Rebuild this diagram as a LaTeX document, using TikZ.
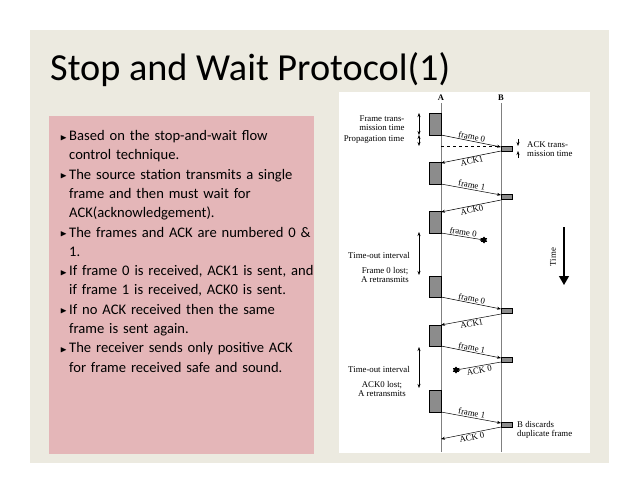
\documentclass[tikz,border=0pt]{standalone}
\usepackage{amssymb}
\usepackage{fontspec}
\setmainfont{Carlito}
\newfontfamily\diag{Liberation Serif}
\usetikzlibrary{arrows.meta,shapes.geometric}
\definecolor{beige}{RGB}{236,234,224}
\definecolor{pinkbox}{RGB}{228,182,184}
\definecolor{blk}{RGB}{140,140,140}
\newcommand{\mybul}{\raisebox{0.5pt}{\small$\blacktriangleright$}}
\begin{document}
\begin{tikzpicture}[x=1pt,y=-1pt,
  dl/.style={font=\diag\fontsize{8.8}{9.5}\selectfont, inner sep=1pt},
  blockA/.style={fill=blk,draw=black,line width=0.4pt},
  msg/.style={-{Stealth[length=4pt,width=3pt]},line width=0.5pt},
  dim/.style={{Stealth[length=4pt,width=3pt]}-{Stealth[length=4pt,width=3pt]},line width=0.5pt},
  lbl/.style={dl,sloped,above,pos=0.5},
  lblr/.style={dl,sloped,below,pos=0.5},
  lost/.style={star,star points=6,fill=black,minimum size=7pt,inner sep=0pt}]
\useasboundingbox (0,0) rectangle (638,493);
\fill[white] (0,0) rectangle (638,493);
\fill[beige] (30,30) rectangle (609,463);
\fill[pinkbox] (49,116) rectangle (314,454);
\node[anchor=base west,inner sep=0pt] (title) at (50,80) {\resizebox{400pt}{!}{Stop and Wait Protocol(1)}};
\node[anchor=north west,inner sep=0pt,text width=260pt,align=left,font=\fontsize{14.6}{19.3}\selectfont] (txt) at (54,121) {%
\begin{list}{\mybul}{\leftmargin=15pt\labelwidth=11pt\labelsep=2pt\itemsep=0pt\parsep=0pt\topsep=0pt\raggedright}
\item Based on the stop-and-wait flow control technique.
\item The source station transmits a single frame and then must wait for ACK(acknowledgement).
\item The frames and ACK are numbered 0 \& 1.
\item If frame 0 is received, ACK1 is sent, and if frame 1 is received, ACK0 is sent.
\item If no ACK received then the same frame is sent again.
\item The receiver sends only positive ACK for frame received safe and sound.
\end{list}};
% diagram panel
\fill[white] (339,92) rectangle (590,453);
\node[dl,font=\diag\bfseries\fontsize{8.5}{9}\selectfont] (A) at (441,98) {A};
\node[dl,font=\diag\bfseries\fontsize{8.5}{9}\selectfont] (B) at (501,98) {B};
\draw[gray,line width=0.8pt] (441,103) -- (441,452);
\draw[gray,line width=0.8pt] (501,103) -- (501,452);
% A blocks
\foreach \t/\b in {113/135,162/184,211/233,276/297,325/346,390/412}
  \draw[blockA] (429,\t) rectangle (441,\b);
% B blocks
\foreach \t in {146,194,308,357,422}
  \draw[blockA] (501,\t) rectangle (512,\t+5);
% messages
\coordinate (a1) at (441,135); \coordinate (b1) at (501,147);
\coordinate (b1e) at (501,151); \coordinate (a1e) at (441,163);
\draw[msg] (a1) -- node[lbl]{frame 0} (b1);
\draw[msg] (b1e) -- node[lblr]{ACK1} (a1e);
\draw[dashed,line width=0.4pt] (441,146) -- (501,146);
\coordinate (a2) at (441,184); \coordinate (b2) at (501,195);
\coordinate (b2e) at (501,200); \coordinate (a2e) at (441,212);
\draw[msg] (a2) -- node[lbl]{frame 1} (b2);
\draw[msg] (b2e) -- node[lblr]{ACK0} (a2e);
\coordinate (a3) at (441,233); \node[lost] (s1) at (484,240) {};
\draw[msg] (a3) -- node[lbl]{frame 0} (s1.center);
\coordinate (a4) at (441,297); \coordinate (b4) at (501,309);
\coordinate (b4e) at (501,314); \coordinate (a4e) at (441,325);
\draw[msg] (a4) -- node[lbl]{frame 0} (b4);
\draw[msg] (b4e) -- node[lblr]{ACK1} (a4e);
\coordinate (a5) at (441,346); \coordinate (b5) at (501,358);
\coordinate (b5e) at (501,362); \node[lost] (s2) at (456,370) {};
\draw[msg] (a5) -- node[lbl]{frame 1} (b5);
\draw[msg] (b5e) -- node[lblr]{ACK 0} (s2.center);
\coordinate (a6) at (441,412); \coordinate (b6) at (501,423);
\coordinate (b6e) at (501,427); \coordinate (a6e) at (441,439);
\draw[msg] (a6) -- node[lbl]{frame 1} (b6);
\draw[msg] (b6e) -- node[lblr]{ACK 0} (a6e);
% left annotations
\node[dl,align=center] (ft) at (382,123) {Frame trans-\\mission time};
\node[dl] (pt) at (374,140) {Propagation time};
\coordinate (d1) at (419,113); \coordinate (d2) at (419,135); \coordinate (d3) at (419,146);
\draw[dim] (d1) -- (d2);
\draw[dim] (d2) -- (d3);
\node[dl,align=left,anchor=west] (ackt) at (526,149) {ACK trans-\\mission time};
\coordinate (k1) at (518,139); \coordinate (k2) at (518,146);
\coordinate (k3) at (518,158); \coordinate (k4) at (518,151);
\draw[msg] (k1) -- (k2);
\draw[msg] (k3) -- (k4);
\coordinate (t1) at (419,232); \coordinate (t2) at (419,275);
\draw[dim] (t1) -- (t2);
\node[dl] (to1) at (379,255) {Time-out interval};
\node[dl,align=center] (fl) at (385,275) {Frame 0 lost;\\A retransmits};
\coordinate (t3) at (419,347); \coordinate (t4) at (419,388);
\draw[dim] (t3) -- (t4);
\node[dl] (to2) at (379,369) {Time-out interval};
\node[dl,align=center] (al) at (382,389) {ACK0 lost;\\A retransmits};
\node[dl,align=left,anchor=west] (bd) at (516,430) {B discards\\duplicate frame};
% time arrow
\coordinate (tm1) at (564,227); \coordinate (tm2) at (564,285);
\draw[line width=1.3pt,-{Triangle[length=9pt,width=10pt]}] (tm1) -- (tm2);
\node[dl,rotate=90] (time) at (553,257) {Time};
\end{tikzpicture}
\end{document}
